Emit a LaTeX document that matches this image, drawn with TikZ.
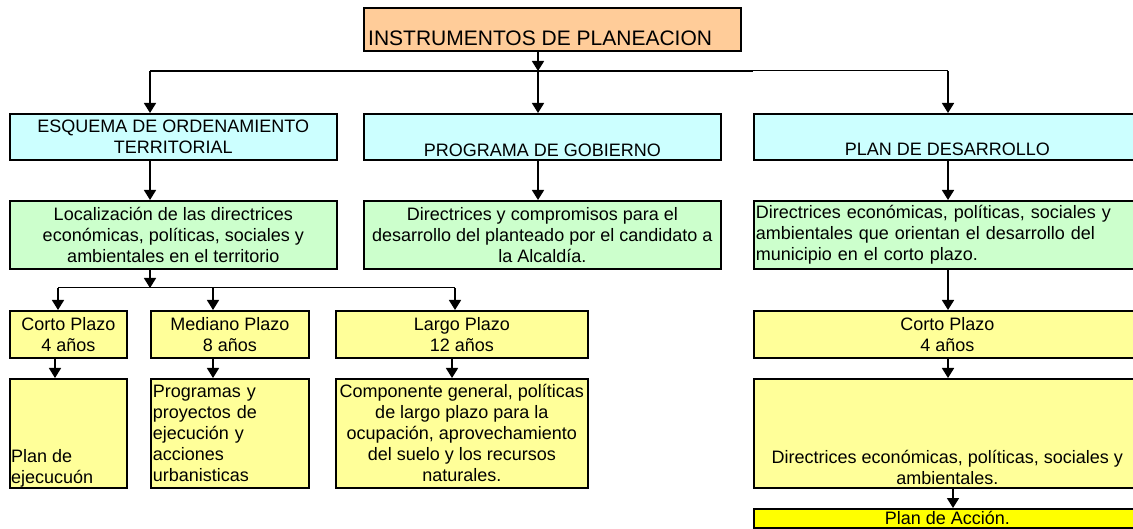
\documentclass[tikz,border=0pt]{standalone}
\usepackage{fontspec}
\setmainfont{Liberation Sans}
\usetikzlibrary{arrows.meta,calc}
\definecolor{naranja}{HTML}{FFCC99}
\definecolor{celeste}{HTML}{CCFFFF}
\definecolor{verde}{HTML}{CCFFCC}
\definecolor{amarillo}{HTML}{FFFF99}
\definecolor{amarillofuerte}{HTML}{FFFF00}
\tikzset{
	caja/.style={draw, line width=1.6pt, anchor=north west, inner sep=2pt, align=center, font=\fontsize{18}{21}\selectfont},
	texto/.style={inner sep=0pt, font=\fontsize{18}{21}\selectfont},
	flecha/.style={line width=1.6pt, -{Triangle[width=12pt,length=10pt]}},
	linea/.style={line width=1.5pt},
	lineafina/.style={line width=1pt}
}

\begin{document}
\begin{tikzpicture}[x=1pt, y=-1pt]
			%%%%% START %%%%%
			\useasboundingbox (0,0) rectangle (1133,529);
			
			% cabeza
			\node[caja, fill=naranja, minimum width=377pt, minimum height=43pt] (instr) at (363,7) {};
			\node[texto, font=\fontsize{21}{24}\selectfont, anchor=base west] (instrT) at ($(instr.south west)+(5,-6)$) {INSTRUMENTOS DE PLANEACION};
			
			% fila 1
			\node[caja, fill=celeste, minimum width=327pt, minimum height=46pt] (esq) at (9,113) {ESQUEMA DE ORDENAMIENTO\\TERRITORIAL};
			\node[caja, fill=celeste, minimum width=357pt, minimum height=46pt] (prog) at (363,113) {};
			\node[texto, anchor=base] (progT) at ($(prog.south)+(0,-4)$) {PROGRAMA DE GOBIERNO};
			\node[caja, fill=celeste, minimum width=387pt, minimum height=46pt] (plan) at (753,113) {};
			\node[texto, anchor=base] (planT) at ($(plan.south)+(0,-5)$) {PLAN DE DESARROLLO};
			
			% fila 2
			\node[caja, fill=verde, minimum width=327pt, minimum height=68pt] (loc) at (9,200) {Localización de las directrices\\económicas, políticas, sociales y\\ambientales en el territorio};
			\node[caja, fill=verde, minimum width=357pt, minimum height=68pt] (compr) at (363,200) {Directrices y compromisos para el\\desarrollo del planteado por el candidato a\\la Alcaldía.};
			\node[caja, fill=verde, text width=383pt, align=left, minimum height=68pt] (orient) at (753,200) {Directrices económicas, políticas, sociales y\\ambientales que orientan el desarrollo del\\municipio en el corto plazo.};
			
			% fila 3
			\node[caja, fill=amarillo, minimum width=117pt, minimum height=47pt] (corto) at (9,310) {Corto Plazo\\4 años};
			\node[caja, fill=amarillo, minimum width=158pt, minimum height=47pt] (mediano) at (150,310) {Mediano Plazo\\8 años};
			\node[caja, fill=amarillo, minimum width=252pt, minimum height=47pt] (largo) at (335,310) {Largo Plazo\\12 años};
			\node[caja, fill=amarillo, minimum width=387pt, minimum height=47pt] (cortoD) at (753,310) {Corto Plazo\\4 años};
			
			% fila 4
			\node[caja, fill=amarillo, minimum width=117pt, minimum height=109pt] (ejec) at (9,378) {};
			\node[texto, align=left, anchor=south west] (ejecT) at ($(ejec.south west)+(2,-1)$) {Plan de\\ejecucuón};
			\node[caja, fill=amarillo, text width=154pt, align=left, minimum height=109pt] (progr) at (150,378) {Programas y\\proyectos de\\ejecución y\\acciones\\urbanisticas};
			\node[caja, fill=amarillo, minimum width=252pt, minimum height=109pt] (compg) at (335,378) {Componente general, políticas\\de largo plazo para la\\ocupación, aprovechamiento\\del suelo y los recursos\\naturales.};
			\node[caja, fill=amarillo, minimum width=387pt, minimum height=109pt] (dirs) at (753,378) {};
			\node[texto, align=center, anchor=south] (dirsT) at ($(dirs.south)+(0,-4)$) {Directrices económicas, políticas, sociales y\\ambientales.};
			
			% fila 5
			\node[caja, fill=amarillofuerte, inner sep=0pt, minimum width=387pt, minimum height=19pt] (accion) at (753,508) {Plan de Acción.};
			
			% conectores arriba
			\coordinate (bus) at (538,71);
			\coordinate (busI) at (150,71);
			\coordinate (busM) at (753,71);
			\coordinate (busD) at (948,71);
			\draw[flecha] (instr.south -| bus) -- (bus);
			\draw[linea] (busI) -- (busM);
			\draw[lineafina] (busM) -- (busD);
			\draw[flecha] (busI) -- (busI |- esq.north);
			\draw[flecha] (bus) -- (bus |- prog.north);
			\draw[flecha] (busD) -- (busD |- plan.north);
			
			\draw[flecha] (esq.south -| busI) -- (busI |- loc.north);
			\draw[flecha] (prog.south -| bus) -- (bus |- compr.north);
			\draw[flecha] (plan.south -| busD) -- (busD |- orient.north);
			
			% conectores plazos
			\coordinate (plazo) at (150,288);
			\coordinate (plazoC) at (58,288);
			\coordinate (plazoM) at (213,288);
			\coordinate (plazoL) at (455,288);
			\draw[flecha] (loc.south -| plazo) -- (plazo);
			\draw[lineafina] (plazoC) -- (plazoL);
			\draw[flecha] (plazoC) -- (plazoC |- corto.north);
			\draw[flecha] (plazoM) -- (plazoM |- mediano.north);
			\draw[flecha] (plazoL) -- (plazoL |- largo.north);
			\draw[flecha] (orient.south -| busD) -- (busD |- cortoD.north);
			
			\draw[flecha] ($(corto.south west)+(46,0)$) -- ($(ejec.north west)+(46,0)$);
			\draw[flecha] (corto.south -| plazoM) -- (plazoM |- progr.north);
			\draw[flecha] ($(largo.south west)+(117,0)$) -- ($(compg.north west)+(117,0)$);
			\draw[flecha] (cortoD.south -| busD) -- (busD |- dirs.north);
			\draw[flecha] ($(dirs.south west)+(200,0)$) -- ($(accion.north west)+(200,0)$);
			
			%%%%% END %%%%%
\end{tikzpicture}
\end{document}
